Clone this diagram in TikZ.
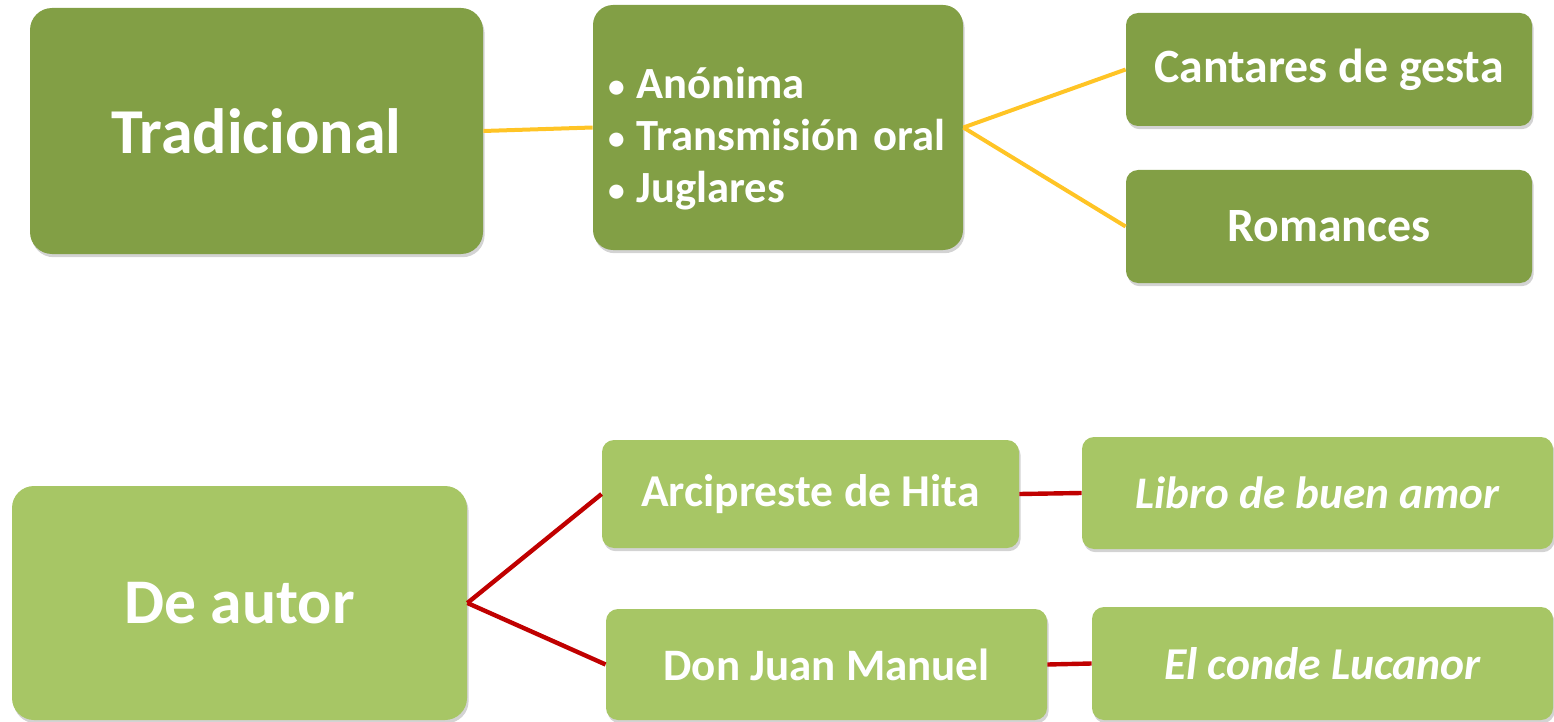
\documentclass[tikz,border=0pt]{standalone}
\usepackage{fontspec}
\setmainfont{Carlito}
\usepackage{tikz}
\usetikzlibrary{shadows}
\definecolor{verdeosc}{RGB}{130,159,69}
\definecolor{verdecla}{RGB}{167,198,101}
\definecolor{amarillo}{RGB}{255,196,37}
\definecolor{rojo}{RGB}{192,0,0}
\newcommand{\vineta}{\hspace*{3.5pt}\raisebox{0.5pt}{\scalebox{0.75}{\textbullet}}\hspace{6pt}}
\tikzset{
  caja/.style={rounded corners=6pt, inner sep=0pt, text=white, font=\bfseries,
    drop shadow={opacity=0.35, shadow xshift=0.8pt, shadow yshift=-1.6pt}},
  oscura/.style={caja, fill=verdeosc},
  clara/.style={caja, fill=verdecla},
  enlace/.style={line width=2pt, color=amarillo},
  enlacer/.style={line width=2.2pt, color=rojo}
}

\begin{document}
\begin{tikzpicture}[x=0.5pt,y=0.5pt,yscale=-1,xscale=1]
\useasboundingbox (0,0) rectangle (1554,722);

%Rounded Rect [tradicional]
\node [oscura, rounded corners=11pt, minimum width=226.5pt, minimum height=123pt, font=\bfseries\fontsize{32}{38}\selectfont] (trad) at (256.5,131) {Tradicional};
%Rounded Rect [rasgos]
\node [oscura, rounded corners=10pt, minimum width=185pt, minimum height=122.5pt, text width=177pt, align=left, font=\bfseries\fontsize{22.3}{27}\selectfont] (rasgos) at (778,127.5) {\raisebox{-6pt}[\height][\depth]{\begin{tabular}{@{}l@{}}\vineta Anónima\\[-1pt] \vineta Transmisión oral\\[-1pt] \vineta Juglares\end{tabular}}};
%Rounded Rect [cantares]
\node [oscura, minimum width=203pt, minimum height=56.5pt, font=\bfseries\fontsize{23.9}{28}\selectfont] (cantares) at (1329,69.5) {Cantares de gesta};
%Rounded Rect [romances]
\node [oscura, minimum width=203pt, minimum height=56.5pt, font=\bfseries\fontsize{23.9}{28}\selectfont] (romances) at (1329,226.5) {Romances};

%Rounded Rect [de autor]
\node [clara, rounded corners=11pt, minimum width=227.5pt, minimum height=117pt, font=\bfseries\fontsize{31.8}{38}\selectfont] (autor) at (239.5,603) {De autor};
%Rounded Rect [arcipreste]
\node [clara, minimum width=208.5pt, minimum height=54pt, font=\bfseries\fontsize{22.8}{27}\selectfont] (hita) at (810.5,494) {Arcipreste de Hita};
%Rounded Rect [libro]
\node [clara, minimum width=235.5pt, minimum height=56pt, font=\bfseries\itshape\fontsize{22.6}{27}\selectfont] (libro) at (1317.5,493) {Libro de buen amor};
%Rounded Rect [don juan]
\node [clara, minimum width=220.5pt, minimum height=55.5pt, font=\bfseries\fontsize{22.5}{27}\selectfont] (manuel) at (826.5,664.5) {Don Juan Manuel};
%Rounded Rect [lucanor]
\node [clara, minimum width=230.5pt, minimum height=56.5pt, font=\bfseries\itshape\fontsize{22.8}{27}\selectfont] (lucanor) at (1322.5,663.5) {El conde Lucanor};

%Straight Lines
\draw [enlace] (trad.east) -- (rasgos.west);
\draw [enlace] (rasgos.east) -- (cantares.west);
\draw [enlace] (rasgos.east) -- (romances.west);
\draw [enlacer] (autor.east) -- (hita.west);
\draw [enlacer] (autor.east) -- (manuel.west);
\draw [enlacer] (hita.east) -- (libro.west);
\draw [enlacer] (manuel.east) -- (lucanor.west);

\end{tikzpicture}
\end{document}
